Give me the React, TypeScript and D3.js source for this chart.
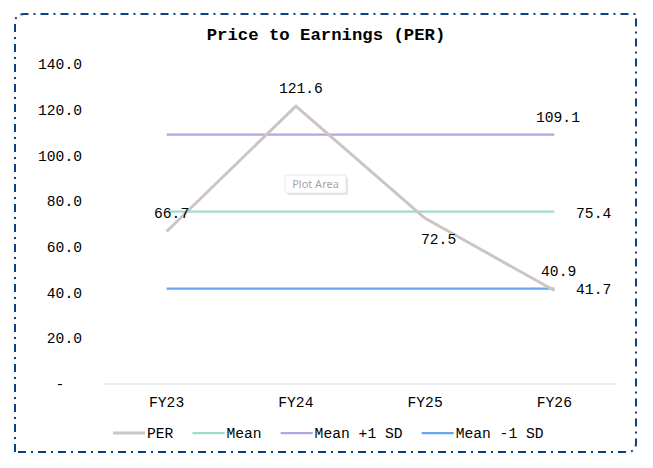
import * as d3 from 'd3';
import { useEffect, useRef } from 'react';

// Chart data
const categories = ['FY23', 'FY24', 'FY25', 'FY26'];
const perValues = [66.7, 121.6, 72.5, 40.9];
const meanValues = [75.4, 75.4, 75.4, 75.4];
const plusSdValues = [109.1, 109.1, 109.1, 109.1];
const minusSdValues = [41.7, 41.7, 41.7, 41.7];
const yTicks = [0, 20, 40, 60, 80, 100, 120, 140];
const seriesNames = ['PER', 'Mean', 'Mean +1 SD', 'Mean -1 SD'];

export default function App() {
  const ref = useRef<SVGSVGElement>(null);

  useEffect(() => {
    const svg = d3.select(ref.current);
    svg.selectAll('*').remove();

    const FONT = '"Liberation Mono", "Courier New", monospace';
    const FS = 14.67;
    const CHAR = FS * 0.6;

    const x = d3.scalePoint<string>().domain(categories).range([102, 619]).padding(0.5);
    const y = d3.scaleLinear().domain([0, 140]).range([384, 64]);

    // Frame: dash-dot, rounded top-left and bottom-right
    const L = 15, T = 14, R = 636, B = 452, r = 9;
    svg
      .append('path')
      .attr('d', `M${L},${B} L${L},${T + r} Q${L},${T} ${L + r},${T} L${R},${T} L${R},${B - r} Q${R},${B} ${R - r},${B} Z`)
      .attr('fill', 'white')
      .attr('stroke', '#0d3f86')
      .attr('stroke-width', 2)
      .attr('stroke-dasharray', '8 5 2 5');

    // Title
    svg
      .append('text')
      .attr('x', 326)
      .attr('y', 40)
      .attr('text-anchor', 'middle')
      .attr('font-family', FONT)
      .attr('font-weight', 'bold')
      .attr('font-size', 17.3)
      .attr('fill', '#000')
      .text('Price to Earnings (PER)');

    // Y tick labels
    svg
      .append('g')
      .selectAll('text')
      .data(yTicks)
      .join('text')
      .attr('x', 82)
      .attr('y', (d) => y(d))
      .attr('dy', '0.35em')
      .attr('text-anchor', 'end')
      .attr('font-family', FONT)
      .attr('font-size', FS)
      .attr('fill', '#000')
      .attr('xml:space', 'preserve')
      .style('white-space', 'pre')
      .text((d) => (d === 0 ? '-  ' : d3.format('.1f')(d)));

    // X axis line
    const [x0, x1] = x.range();
    svg
      .append('line')
      .attr('x1', x0 + 1)
      .attr('x2', x1 - 2)
      .attr('y1', y(0))
      .attr('y2', y(0))
      .attr('stroke', '#d9d9d9')
      .attr('stroke-width', 1);

    // X labels
    svg
      .append('g')
      .selectAll('text')
      .data(categories)
      .join('text')
      .attr('x', (d) => x(d)!)
      .attr('y', 402)
      .attr('dy', '0.35em')
      .attr('text-anchor', 'middle')
      .attr('font-family', FONT)
      .attr('font-size', FS)
      .attr('fill', '#000')
      .text((d) => d);

    const series = [
      { name: seriesNames[0], values: perValues, color: '#cdc5c5', width: 3, labelIdx: [0, 1, 2, 3], offsets: [[5, -18.2], [5, -18.4], [13.5, 20.7], [4.3, -19.8]] },
      { name: seriesNames[1], values: meanValues, color: '#9fdcc9', width: 2.25, labelIdx: [3], offsets: [[39.3, 1]] },
      { name: seriesNames[2], values: plusSdValues, color: '#b2a6e0', width: 2.25, labelIdx: [3], offsets: [[3.6, -18]] },
      { name: seriesNames[3], values: minusSdValues, color: '#67a6f0', width: 2.25, labelIdx: [3], offsets: [[39.3, 0.6]] },
    ];

    const line = d3
      .line<number>()
      .x((_, i) => x(categories[i])!)
      .y((d) => y(d));

    // Draw mean lines first, PER on top
    [1, 2, 3, 0].forEach((si) => {
      const s = series[si];
      svg
        .append('path')
        .attr('d', line(s.values))
        .attr('fill', 'none')
        .attr('stroke', s.color)
        .attr('stroke-width', s.width)
        .attr('stroke-linejoin', 'round');
    });

    // Data labels
    series.forEach((s) => {
      s.labelIdx.forEach((i, k) => {
        svg
          .append('text')
          .attr('x', x(categories[i])! + s.offsets[k][0])
          .attr('y', y(s.values[i]) + s.offsets[k][1])
          .attr('dy', '0.35em')
          .attr('text-anchor', 'middle')
          .attr('font-family', FONT)
          .attr('font-size', FS)
          .attr('fill', '#000')
          .text(d3.format('.1f')(s.values[i]));
      });
    });

    // "Plot Area" hover tag
    const tag = svg.append('g').attr('transform', 'translate(285,175)');
    tag.append('rect').attr('x', 2).attr('y', 2).attr('width', 61).attr('height', 18).attr('rx', 2).attr('fill', '#e4e4e4');
    tag.append('rect').attr('width', 61).attr('height', 18).attr('rx', 2).attr('fill', '#fff').attr('stroke', '#e8e8e8');
    tag
      .append('text')
      .attr('x', 30.5)
      .attr('y', 9)
      .attr('dy', '0.35em')
      .attr('text-anchor', 'middle')
      .attr('font-family', '"Noto Sans", "Open Sans", sans-serif')
      .attr('font-size', 11)
      .attr('fill', '#a6a6a6')
      .text('Plot Area');

    // Legend
    const legend = svg.append('g').attr('transform', 'translate(0,433)');
    let lx = 113;
    series.forEach((s) => {
      legend
        .append('line')
        .attr('x1', lx)
        .attr('x2', lx + 32)
        .attr('y1', 0)
        .attr('y2', 0)
        .attr('stroke', s.color)
        .attr('stroke-width', s.width);
      legend
        .append('text')
        .attr('x', lx + 34)
        .attr('y', 0)
        .attr('dy', '0.35em')
        .attr('font-family', FONT)
        .attr('font-size', FS)
        .attr('fill', '#000')
        .attr('xml:space', 'preserve')
        .style('white-space', 'pre')
        .text(s.name);
      lx += 34 + s.name.length * CHAR + 19;
    });
  }, []);

  return (
    <svg
      ref={ref}
      width={653}
      height={468}
      style={{ position: 'fixed', left: 0, top: 0, background: '#fff' }}
    />
  );
}
